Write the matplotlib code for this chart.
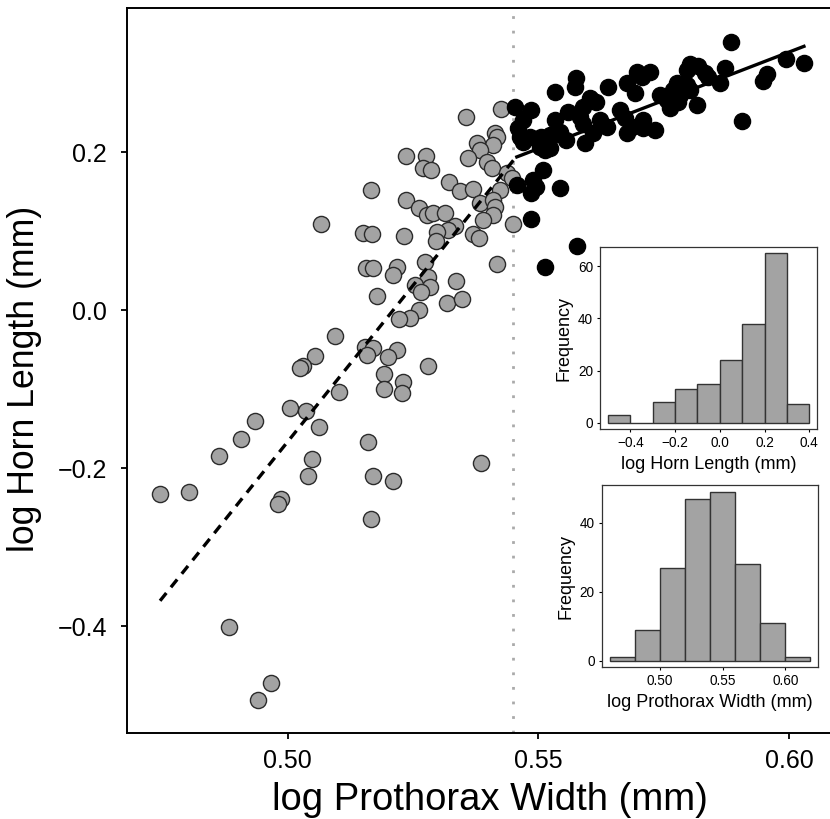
import numpy as np
import matplotlib
matplotlib.use('Agg')
import matplotlib.pyplot as plt

plt.rcParams['font.family'] = ['Liberation Sans', 'DejaVu Sans']

# small-horned males (left of the switch point)
grey_x = [0.5355, 0.5425, 0.5413, 0.5417, 0.5410, 0.5377, 0.5383, 0.5360, 0.5397, 0.5407,
          0.5437, 0.5447, 0.5236, 0.5275, 0.5269, 0.5285, 0.5322, 0.5343, 0.5369, 0.5423,
          0.5165, 0.5236, 0.5262, 0.5277, 0.5290, 0.5313, 0.5383, 0.5410, 0.5413, 0.5410,
          0.5390, 0.5333, 0.5320, 0.5298, 0.5295, 0.5232, 0.5369, 0.5382, 0.5449, 0.5066,
          0.5150, 0.5167, 0.5418, 0.5273, 0.5218, 0.5210, 0.5156, 0.5170, 0.5279, 0.5283,
          0.5253, 0.5265, 0.5335, 0.5178, 0.5317, 0.5347, 0.5262, 0.5244, 0.5222, 0.5095,
          0.5054, 0.5031, 0.5024, 0.5154, 0.5170, 0.5157, 0.5217, 0.5200, 0.5279, 0.5192,
          0.5230, 0.5192, 0.5227, 0.5102, 0.5004, 0.5036, 0.5062, 0.4934, 0.4906, 0.4863,
          0.5160, 0.5049, 0.5041, 0.5170, 0.5209, 0.5385, 0.4745, 0.4802, 0.4986, 0.4981,
          0.5165, 0.4883, 0.4966, 0.4940]
grey_y = [0.2447, 0.2541, 0.2237, 0.2194, 0.2089, 0.2110, 0.2025, 0.1924, 0.1877, 0.1794,
          0.1730, 0.1667, 0.1946, 0.1956, 0.1797, 0.1768, 0.1624, 0.1510, 0.1528, 0.1519,
          0.1519, 0.1389, 0.1297, 0.1203, 0.1228, 0.1224, 0.1351, 0.1392, 0.1308, 0.1203,
          0.1139, 0.1070, 0.1013, 0.0987, 0.0873, 0.0941, 0.0962, 0.0908, 0.1095, 0.1089,
          0.0978, 0.0962, 0.0580, 0.0611, 0.0548, 0.0443, 0.0528, 0.0528, 0.0422, 0.0295,
          0.0316, 0.0232, 0.0367, 0.0177, 0.0092, 0.0135, 0.0000, -0.0105, -0.0118, -0.0325,
          -0.0582, -0.0709, -0.0738, -0.0465, -0.0485, -0.0570, -0.0510, -0.0595, -0.0709, -0.0810,
          -0.0905, -0.1000, -0.1054, -0.1034, -0.1244, -0.1278, -0.1477, -0.1401, -0.1633, -0.1844,
          -0.1667, -0.1886, -0.2097, -0.2097, -0.2165, -0.1933, -0.2333, -0.2308, -0.2396, -0.2456,
          -0.2642, -0.4009, -0.4718, -0.4937]

# large-horned males (right of the switch point)
black_x = [0.5885, 0.5994, 0.6030, 0.5956, 0.5948, 0.5872, 0.5862, 0.5802, 0.5819, 0.5796,
           0.5832, 0.5839, 0.5906, 0.5816, 0.5776, 0.5796, 0.5802, 0.5769, 0.5782, 0.5743,
           0.5756, 0.5762, 0.5779, 0.5723, 0.5706, 0.5696, 0.5709, 0.5733, 0.5676, 0.5639,
           0.5693, 0.5663, 0.5673, 0.5686, 0.5676, 0.5709, 0.5576, 0.5573, 0.5533, 0.5603,
           0.5616, 0.5589, 0.5453, 0.5486, 0.5559, 0.5533, 0.5470, 0.5583, 0.5589, 0.5623,
           0.5636, 0.5609, 0.5463, 0.5483, 0.5506, 0.5523, 0.5543, 0.5556, 0.5503, 0.5513,
           0.5593, 0.5470, 0.5523, 0.5510, 0.5490, 0.5496, 0.5457, 0.5543, 0.5486, 0.5486,
           0.5577, 0.5513, 0.5459]
black_y = [0.3396, 0.3186, 0.3123, 0.2996, 0.2899, 0.3070, 0.2873, 0.3114, 0.3089, 0.3038,
           0.3006, 0.2949, 0.2396, 0.2595, 0.2880, 0.2848, 0.2785, 0.2785, 0.2722, 0.2722,
           0.2658, 0.2563, 0.2633, 0.3016, 0.2953, 0.3016, 0.2405, 0.2278, 0.2870, 0.2827,
           0.2743, 0.2532, 0.2427, 0.2320, 0.2237, 0.2304, 0.2933, 0.2827, 0.2763, 0.2680,
           0.2637, 0.2573, 0.2573, 0.2532, 0.2510, 0.2405, 0.2405, 0.2447, 0.2363, 0.2405,
           0.2320, 0.2237, 0.2194, 0.2194, 0.2194, 0.2215, 0.2257, 0.2152, 0.2067, 0.2025,
           0.2110, 0.2130, 0.2047, 0.1772, 0.1646, 0.1561, 0.1582, 0.1551, 0.1477, 0.1158,
           0.0810, 0.0548, 0.2304]

# fitted lines and switch point
small_fit_x = [0.4745, 0.5453]
small_fit_y = [-0.368, 0.192]
large_fit_x = [0.5457, 0.6030]
large_fit_y = [0.194, 0.334]
switch_x = 0.545

# histograms
horn_edges = [-0.5, -0.4, -0.3, -0.2, -0.1, 0.0, 0.1, 0.2, 0.3, 0.4]
horn_counts = [3, 0, 8, 13, 15, 24, 38, 65, 7]
width_edges = [0.46, 0.48, 0.50, 0.52, 0.54, 0.56, 0.58, 0.60, 0.62]
width_counts = [1, 9, 27, 47, 49, 28, 11, 1]

fig = plt.figure(figsize=(8.3, 8.19), dpi=100)
ax = fig.add_axes([0.153, 0.105, 0.847, 0.885])

ax.axvline(switch_x, color='#aaaaaa', lw=2, ls=(0, (1, 4.25)), zorder=1)
ax.scatter(grey_x, grey_y, s=135, c='#a3a3a3', edgecolors='#2b2b2b', linewidths=1, zorder=3)
ax.scatter(black_x, black_y, s=135, c='black', edgecolors='black', linewidths=1, zorder=3)
ax.plot(small_fit_x, small_fit_y, color='black', lw=2.4, ls=(0, (3.0, 2.2)), zorder=4)
ax.plot(large_fit_x, large_fit_y, color='black', lw=2.4, zorder=4)

ax.set_xlim(0.4679, 0.6082)
ax.set_ylim(-0.5354, 0.3823)
ax.set_xticks([0.50, 0.55, 0.60])
ax.set_xticklabels(['0.50', '0.55', '0.60'])
ax.set_yticks([-0.4, -0.2, 0.0, 0.2])
ax.set_yticklabels(['\u22120.4', '\u22120.2', '0.0', '0.2'])
ax.tick_params(direction='out', length=4.5, width=1.3, labelsize=18)
ax.tick_params(axis='x', pad=7)
ax.tick_params(axis='y', pad=10)
ax.spines['right'].set_visible(False)
for s in ['left', 'bottom', 'top']:
    ax.spines[s].set_linewidth(1.4)
ax.set_xlabel('log Prothorax Width (mm)', fontsize=27.5)
ax.xaxis.set_label_coords(0.516, -0.068)
ax.set_ylabel('log Horn Length (mm)', fontsize=25.7)
ax.yaxis.set_label_coords(-0.121, 0.488)


def inset_hist(rect, edges, counts, xlim, ylim, xticks, xlabels, yticks, xlabel):
    a = fig.add_axes(rect)
    a.set_facecolor('white')
    a.bar(edges[:-1], counts, width=np.diff(edges), align='edge',
          color='#a3a3a3', edgecolor='#333333', linewidth=1)
    a.set_xlim(*xlim)
    a.set_ylim(*ylim)
    a.set_xticks(xticks)
    a.set_xticklabels(xlabels)
    a.set_yticks(yticks)
    a.tick_params(direction='out', length=2.5, width=0.8, labelsize=9.8, pad=2.5)
    for s in a.spines.values():
        s.set_linewidth(0.9)
        s.set_color('#333333')
    a.set_xlabel(xlabel, fontsize=13, labelpad=4)
    a.set_ylabel('Frequency', fontsize=13, labelpad=4)
    return a


inset_hist([0.7229, 0.4758, 0.2618, 0.2230], horn_edges, horn_counts,
           (-0.536, 0.436), (-2.6, 67.6), [-0.4, -0.2, 0.0, 0.2, 0.4],
           ['\u22120.4', '\u22120.2', '0.0', '0.2', '0.4'], [0, 20, 40, 60],
           'log Horn Length (mm)')
inset_hist([0.7249, 0.1852, 0.2610, 0.2226], width_edges, width_counts,
           (0.4536, 0.6264), (-1.96, 50.96), [0.50, 0.55, 0.60],
           ['0.50', '0.55', '0.60'], [0, 20, 40],
           'log Prothorax Width (mm)')

fig.savefig('out.png', dpi=100)
